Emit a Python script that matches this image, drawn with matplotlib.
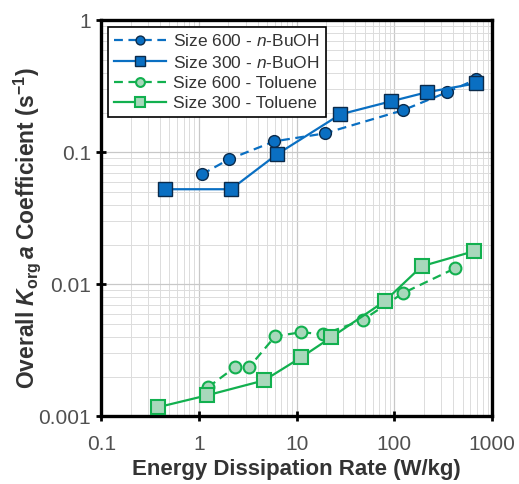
""" mass transfer coefficient vs energy dissipation rate """

import matplotlib
matplotlib.use("Agg")
import matplotlib.pyplot
import matplotlib.ticker

# size 600 / n-BuOH (circles, dashed)
x600_buoh = [1.07, 2.03, 5.9, 19.3, 122, 346, 687]
k600_buoh = [0.068, 0.0885, 0.121, 0.139, 0.208, 0.285, 0.357]

# size 300 / n-BuOH (squares, solid)
x300_buoh = [0.45, 2.13, 6.3, 28.1, 91.8, 215, 687]
k300_buoh = [0.0525, 0.0525, 0.0966, 0.194, 0.243, 0.285, 0.333]

# size 600 / toluene
x600_tol = [1.24, 2.34, 3.26, 6.04, 11.2, 18.8, 47.3, 122, 418]
k600_tol = [0.00166, 0.00235, 0.00235, 0.00404, 0.00433, 0.00418, 0.00534, 0.00855, 0.0132]

# size 300 / toluene
x300_tol = [0.38, 1.21, 4.66, 11.2, 22.7, 79.6, 191, 655]
k300_tol = [0.00117, 0.00144, 0.00187, 0.0028, 0.00397, 0.00743, 0.0137, 0.0178]

labels = ["Size 600 - $n$-BuOH", "Size 300 - $n$-BuOH",
          "Size 600 - Toluene", "Size 300 - Toluene"]

xticklabels = ["0.1", "1", "10", "100", "1000"]
yticklabels = ["0.001", "0.01", "0.1", "1"]

OUTPUT = "out.png"

matplotlib.rcParams["font.family"] = ["Liberation Sans", "DejaVu Sans"]
matplotlib.rcParams["mathtext.fontset"] = "custom"
matplotlib.rcParams["mathtext.rm"] = "Liberation Sans"
matplotlib.rcParams["mathtext.it"] = "Liberation Sans:italic"
matplotlib.rcParams["mathtext.bf"] = "Liberation Sans:bold"
matplotlib.rcParams["mathtext.bfit"] = "Liberation Sans:bold:italic"


def plot_coefficients():
    blue = "#0a6fc2"
    green = "#12b04f"
    lightgreen = "#a8d8bb"

    fig = matplotlib.pyplot.figure(figsize=(5.19, 4.84), dpi=100)
    ax = fig.add_axes([0.195, 0.14, 0.753, 0.818])

    ax.plot(x600_buoh, k600_buoh, "--o", color=blue, lw=1.6, dashes=(4, 2.5),
            ms=8.5, mfc=blue, mec="#0b2a4a", mew=1.0, label=labels[0], zorder=3)
    ax.plot(x300_buoh, k300_buoh, "-s", color=blue, lw=1.6,
            ms=10.5, mfc=blue, mec="#0b2a4a", mew=1.0, label=labels[1], zorder=3)
    ax.plot(x600_tol, k600_tol, "--o", color=green, lw=1.6, dashes=(4, 2.5),
            ms=8.5, mfc=lightgreen, mec=green, mew=1.5, label=labels[2], zorder=3)
    ax.plot(x300_tol, k300_tol, "-s", color=green, lw=1.6,
            ms=10.5, mfc=lightgreen, mec=green, mew=1.5, label=labels[3], zorder=3)

    ax.set_xscale("log")
    ax.set_yscale("log")
    ax.set_xlim([0.1, 1000])
    ax.set_ylim([0.001, 1])

    ax.set_xticks([float(t) for t in xticklabels])
    ax.set_xticklabels(xticklabels)
    ax.set_yticks([float(t) for t in yticklabels])
    ax.set_yticklabels(yticklabels)
    ax.xaxis.set_minor_locator(matplotlib.ticker.LogLocator(base=10, subs=range(2, 10)))
    ax.yaxis.set_minor_locator(matplotlib.ticker.LogLocator(base=10, subs=range(2, 10)))
    ax.xaxis.set_minor_formatter(matplotlib.ticker.NullFormatter())
    ax.yaxis.set_minor_formatter(matplotlib.ticker.NullFormatter())

    ax.grid(which="major", color="#c8c8c8", lw=0.9, zorder=0)
    ax.grid(which="minor", color="#dcdcdc", lw=0.7, zorder=0)
    ax.set_axisbelow(True)

    for spine in ax.spines.values():
        spine.set_linewidth(2.4)
        spine.set_color("black")
    ax.tick_params(which="major", direction="inout", length=7, width=2.0,
                   labelsize=15, labelcolor="#505050")
    ax.tick_params(axis="x", which="major", pad=10)
    ax.tick_params(axis="y", which="major", pad=4)
    ax.tick_params(which="minor", length=0)

    ax.set_xlabel("Energy Dissipation Rate (W/kg)", fontsize=16, fontweight="bold",
                  color="#333333")
    ax.set_ylabel(r"Overall $\mathbfit{K}_{\mathbf{org}}\,\mathbfit{a}$ Coefficient (s$^{\mathbf{-1}}$)",
                  fontsize=16.5, fontweight="bold", color="#333333")
    ax.xaxis.set_label_coords(0.5, -0.108)
    ax.yaxis.set_label_coords(-0.148, 0.475)

    leg = ax.legend(loc="upper left", fontsize=12.5, frameon=True, fancybox=False,
                    edgecolor="black", framealpha=1.0, borderpad=0.35,
                    labelspacing=0.3, handlelength=3.0, handletextpad=0.4,
                    borderaxespad=0.4, markerscale=0.75)
    leg.get_frame().set_linewidth(1.2)
    for text in leg.get_texts():
        text.set_color("#333333")

    matplotlib.pyplot.savefig(OUTPUT, dpi=100)
    matplotlib.pyplot.close()


if __name__ == "__main__":
    plot_coefficients()
